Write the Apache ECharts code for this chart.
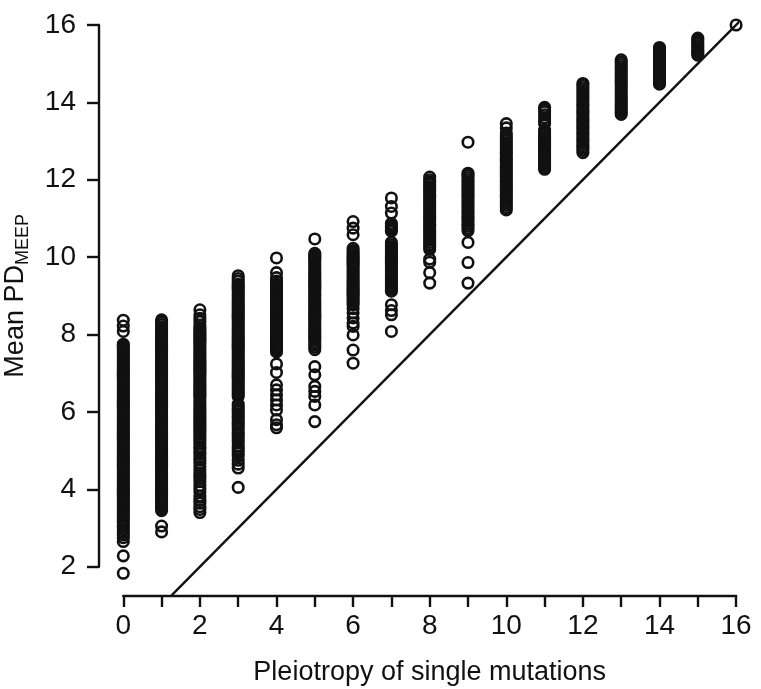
<!DOCTYPE html>
<html>
<head>
<meta charset="utf-8">
<script src="https://cdn.jsdelivr.net/npm/echarts@6/dist/echarts.min.js"></script>
<style>
  html, body { margin: 0; padding: 0; background: #fff; }
  #chart { width: 761px; height: 689px; }
</style>
</head>
<body>
<div id="chart"></div>
<script>
const INK = '#111'
const FONT = 'Liberation Sans, Arial, sans-serif'

// pleiotropy of single mutations (x) -> mean PD_MEEP values (y), one array per column
const col0 = [1.83, 2.28, 2.65, 2.75, 2.82, 2.88, 2.95, 3.02, 3.08, 3.15, 3.22, 3.28, 3.35, 3.4, 3.45, 3.5, 3.55, 3.6, 3.65, 3.7, 3.75, 3.8, 3.85, 3.9, 3.95, 4.0, 4.05, 4.1, 4.15, 4.2, 4.25, 4.3, 4.35, 4.4, 4.45, 4.5, 4.55, 4.6, 4.65, 4.7, 4.75, 4.8, 4.85, 4.9, 4.95, 5.0, 5.05, 5.1, 5.15, 5.2, 5.25, 5.3, 5.35, 5.4, 5.45, 5.5, 5.55, 5.6, 5.65, 5.7, 5.75, 5.8, 5.85, 5.9, 5.95, 6.0, 6.05, 6.1, 6.15, 6.2, 6.25, 6.3, 6.35, 6.4, 6.45, 6.5, 6.55, 6.6, 6.65, 6.7, 6.75, 6.8, 6.85, 6.9, 6.95, 7.0, 7.05, 7.1, 7.15, 7.2, 7.25, 7.3, 7.35, 7.4, 7.45, 7.5, 7.55, 7.6, 7.65, 7.7, 7.75, 8.08, 8.22, 8.37]
const col1 = [2.9, 3.05, 3.45, 3.5, 3.55, 3.6, 3.65, 3.7, 3.75, 3.8, 3.85, 3.9, 3.95, 4.0, 4.05, 4.1, 4.15, 4.2, 4.25, 4.3, 4.35, 4.4, 4.45, 4.5, 4.55, 4.6, 4.65, 4.7, 4.75, 4.8, 4.85, 4.9, 4.95, 5.0, 5.05, 5.1, 5.15, 5.2, 5.25, 5.3, 5.35, 5.4, 5.45, 5.5, 5.55, 5.6, 5.65, 5.7, 5.75, 5.8, 5.85, 5.9, 5.95, 6.0, 6.05, 6.1, 6.15, 6.2, 6.25, 6.3, 6.35, 6.4, 6.45, 6.5, 6.55, 6.6, 6.65, 6.7, 6.75, 6.8, 6.85, 6.9, 6.95, 7.0, 7.05, 7.1, 7.15, 7.2, 7.25, 7.3, 7.35, 7.4, 7.45, 7.5, 7.55, 7.6, 7.65, 7.7, 7.75, 7.8, 7.85, 7.9, 7.95, 8.0, 8.05, 8.1, 8.15, 8.2, 8.26, 8.32, 8.38]
const col2 = [3.4, 3.48, 3.55, 3.64, 3.72, 3.82, 3.94, 4.02, 4.1, 4.2, 4.28, 4.35, 4.41, 4.5, 4.58, 4.67, 4.75, 4.82, 4.9, 4.97, 5.04, 5.1, 5.18, 5.25, 5.31, 5.36, 5.42, 5.48, 5.54, 5.6, 5.65, 5.7, 5.75, 5.8, 5.85, 5.9, 5.95, 6.0, 6.05, 6.1, 6.18, 6.24, 6.31, 6.38, 6.43, 6.48, 6.53, 6.58, 6.63, 6.68, 6.73, 6.78, 6.83, 6.88, 6.93, 6.98, 7.03, 7.08, 7.13, 7.18, 7.23, 7.28, 7.33, 7.38, 7.43, 7.48, 7.53, 7.58, 7.63, 7.68, 7.73, 7.78, 7.83, 7.88, 7.93, 7.98, 8.03, 8.08, 8.13, 8.18, 8.24, 8.34, 8.42, 8.51, 8.64]
const col3 = [4.05, 4.55, 4.65, 4.75, 4.86, 4.94, 5.0, 5.06, 5.12, 5.2, 5.26, 5.32, 5.4, 5.46, 5.52, 5.6, 5.66, 5.72, 5.78, 5.84, 5.9, 5.96, 6.02, 6.08, 6.14, 6.2, 6.4, 6.45, 6.5, 6.55, 6.6, 6.65, 6.7, 6.75, 6.8, 6.85, 6.9, 6.95, 7.0, 7.05, 7.1, 7.15, 7.2, 7.25, 7.3, 7.35, 7.4, 7.45, 7.5, 7.55, 7.6, 7.65, 7.7, 7.75, 7.8, 7.85, 7.9, 7.95, 8.0, 8.05, 8.1, 8.15, 8.2, 8.25, 8.3, 8.35, 8.4, 8.45, 8.5, 8.55, 8.6, 8.65, 8.7, 8.75, 8.8, 8.85, 8.9, 8.95, 9.0, 9.05, 9.1, 9.15, 9.2, 9.25, 9.3, 9.38, 9.45, 9.52]
const col4 = [5.59, 5.67, 5.8, 6.05, 6.18, 6.31, 6.44, 6.57, 6.7, 7.02, 7.24, 7.55, 7.6, 7.65, 7.7, 7.75, 7.8, 7.85, 7.9, 7.95, 8.0, 8.05, 8.1, 8.15, 8.2, 8.25, 8.3, 8.35, 8.4, 8.45, 8.5, 8.55, 8.6, 8.65, 8.7, 8.75, 8.8, 8.85, 8.9, 8.95, 9.0, 9.05, 9.1, 9.15, 9.2, 9.25, 9.3, 9.38, 9.47, 9.6, 9.98]
const col5 = [5.75, 6.18, 6.4, 6.53, 6.66, 6.96, 7.17, 7.61, 7.67, 7.73, 7.79, 7.85, 7.9, 7.95, 8.0, 8.05, 8.1, 8.15, 8.2, 8.25, 8.3, 8.35, 8.4, 8.45, 8.5, 8.55, 8.6, 8.65, 8.7, 8.75, 8.8, 8.85, 8.9, 8.95, 9.0, 9.05, 9.1, 9.15, 9.2, 9.25, 9.3, 9.35, 9.4, 9.45, 9.5, 9.55, 9.6, 9.65, 9.7, 9.75, 9.8, 9.85, 9.9, 9.95, 10.0, 10.05, 10.1, 10.47]
const col6 = [7.26, 7.6, 7.99, 8.21, 8.3, 8.43, 8.56, 8.67, 8.77, 8.82, 8.87, 8.92, 8.97, 9.02, 9.07, 9.12, 9.17, 9.22, 9.27, 9.32, 9.37, 9.42, 9.47, 9.52, 9.57, 9.62, 9.67, 9.72, 9.77, 9.82, 9.87, 9.92, 9.97, 10.02, 10.07, 10.12, 10.17, 10.23, 10.58, 10.75, 10.92]
const col7 = [8.08, 8.51, 8.62, 8.77, 9.12, 9.17, 9.22, 9.27, 9.32, 9.37, 9.42, 9.47, 9.52, 9.57, 9.62, 9.67, 9.72, 9.77, 9.82, 9.87, 9.92, 9.97, 10.02, 10.07, 10.12, 10.17, 10.22, 10.27, 10.32, 10.38, 10.67, 10.72, 10.77, 10.82, 10.87, 11.14, 11.31, 11.53]
const col8 = [9.33, 9.6, 9.87, 9.95, 10.2, 10.26, 10.32, 10.38, 10.44, 10.5, 10.56, 10.62, 10.68, 10.74, 10.8, 10.86, 10.92, 10.98, 11.04, 11.1, 11.16, 11.22, 11.28, 11.34, 11.4, 11.46, 11.52, 11.58, 11.64, 11.7, 11.76, 11.82, 11.88, 11.94, 12.0, 12.07]
const col9 = [9.33, 9.86, 10.38, 10.68, 10.74, 10.8, 10.86, 10.92, 10.98, 11.04, 11.1, 11.16, 11.22, 11.28, 11.34, 11.4, 11.46, 11.52, 11.58, 11.64, 11.7, 11.76, 11.82, 11.88, 11.94, 12.0, 12.06, 12.12, 12.17, 12.97]
const col10 = [11.22, 11.28, 11.34, 11.4, 11.46, 11.52, 11.58, 11.64, 11.7, 11.76, 11.82, 11.88, 11.94, 12.0, 12.06, 12.12, 12.18, 12.24, 12.3, 12.36, 12.42, 12.48, 12.54, 12.6, 12.66, 12.72, 12.78, 12.84, 12.9, 12.96, 13.02, 13.08, 13.14, 13.21, 13.34, 13.45]
const col11 = [12.27, 12.32, 12.37, 12.42, 12.47, 12.52, 12.57, 12.62, 12.67, 12.72, 12.77, 12.82, 12.87, 12.92, 12.97, 13.02, 13.07, 13.12, 13.17, 13.22, 13.28, 13.45, 13.52, 13.6, 13.68, 13.76, 13.82, 13.87]
const col12 = [12.7, 12.76, 12.82, 12.88, 12.94, 13.0, 13.06, 13.12, 13.18, 13.24, 13.3, 13.36, 13.42, 13.48, 13.54, 13.6, 13.66, 13.72, 13.78, 13.84, 13.9, 13.96, 14.02, 14.08, 14.14, 14.2, 14.26, 14.32, 14.38, 14.44, 14.49]
const col13 = [13.69, 13.74, 13.79, 13.84, 13.89, 13.94, 13.99, 14.04, 14.09, 14.14, 14.2, 14.26, 14.32, 14.38, 14.44, 14.5, 14.56, 14.62, 14.68, 14.74, 14.8, 14.86, 14.92, 14.98, 15.04, 15.1]
const col14 = [14.47, 14.52, 14.57, 14.62, 14.67, 14.72, 14.77, 14.82, 14.87, 14.92, 14.97, 15.02, 15.07, 15.12, 15.17, 15.22, 15.27, 15.32, 15.37, 15.42]
const col15 = [15.22, 15.27, 15.32, 15.37, 15.42, 15.47, 15.52, 15.57, 15.62, 15.66]
const col16 = [16.0]
const columns = [col0, col1, col2, col3, col4, col5, col6, col7, col8, col9, col10, col11, col12, col13, col14, col15, col16]

// y = x reference line, running from the bottom edge of the plot box to the top edge
const refLine = [[1.26, 1.26], [16.57, 16.57]]

const xTicks = { min: 0, max: 16, step: 1 }
const yTicks = { min: 2, max: 16, step: 2 }

const points = []
columns.forEach((ys, x) => ys.forEach(y => points.push([x, y])))

const chart = echarts.init(document.getElementById('chart'), null, { renderer: 'canvas' })

const axisText = { color: INK, fontSize: 28, fontFamily: FONT }
const axisStroke = { color: INK, width: 2.4 }

chart.setOption({
  backgroundColor: '#fff',
  animation: false,
  grid: { left: 123.3, right: 24.9, top: 25, bottom: 122.3, containLabel: false, outerBoundsMode: 'none' },
  xAxis: {
    type: 'value',
    min: xTicks.min, max: xTicks.max, interval: xTicks.step,
    offset: 28.8,
    axisLine: { show: true, onZero: false, lineStyle: axisStroke },
    axisTick: { show: true, length: 11.5, lineStyle: axisStroke },
    axisLabel: {
      ...axisText, margin: 17, hideOverlap: false,
      formatter: v => (v % 2 === 0 ? String(v) : ''),
    },
    splitLine: { show: false },
    name: 'Pleiotropy of single mutations',
    nameLocation: 'middle',
    nameGap: 64,
    nameTextStyle: { color: INK, fontSize: 27, fontFamily: FONT },
  },
  yAxis: {
    type: 'value',
    min: yTicks.min, max: yTicks.max, interval: yTicks.step,
    offset: 24.3,
    axisLine: { show: true, onZero: false, lineStyle: axisStroke },
    axisTick: { show: true, length: 12, lineStyle: axisStroke },
    axisLabel: { ...axisText, margin: 23 },
    splitLine: { show: false },
    name: '{a|Mean PD}{b|MEEP}',
    nameLocation: 'middle',
    nameRotate: 90,
    nameGap: 70,
    nameTextStyle: {
      color: INK,
      fontFamily: FONT,
      rich: {
        a: { fontSize: 27, color: INK, fontFamily: FONT },
        b: { fontSize: 18, color: INK, fontFamily: FONT, verticalAlign: 'bottom', padding: [0, 0, -3, 0] },
      },
    },
  },
  series: [
    {
      type: 'scatter',
      data: points,
      clip: false,
      symbol: 'circle',
      symbolSize: 10.5,
      itemStyle: { color: 'rgba(0,0,0,0)', borderColor: INK, borderWidth: 2.6, opacity: 1 },
      emphasis: { disabled: true },
      silent: true,
    },
    {
      type: 'line',
      data: refLine,
      clip: false,
      symbol: 'none',
      lineStyle: { color: INK, width: 2.4 },
      silent: true,
    },
  ],
  tooltip: { show: false },
})
</script>
</body>
</html>
